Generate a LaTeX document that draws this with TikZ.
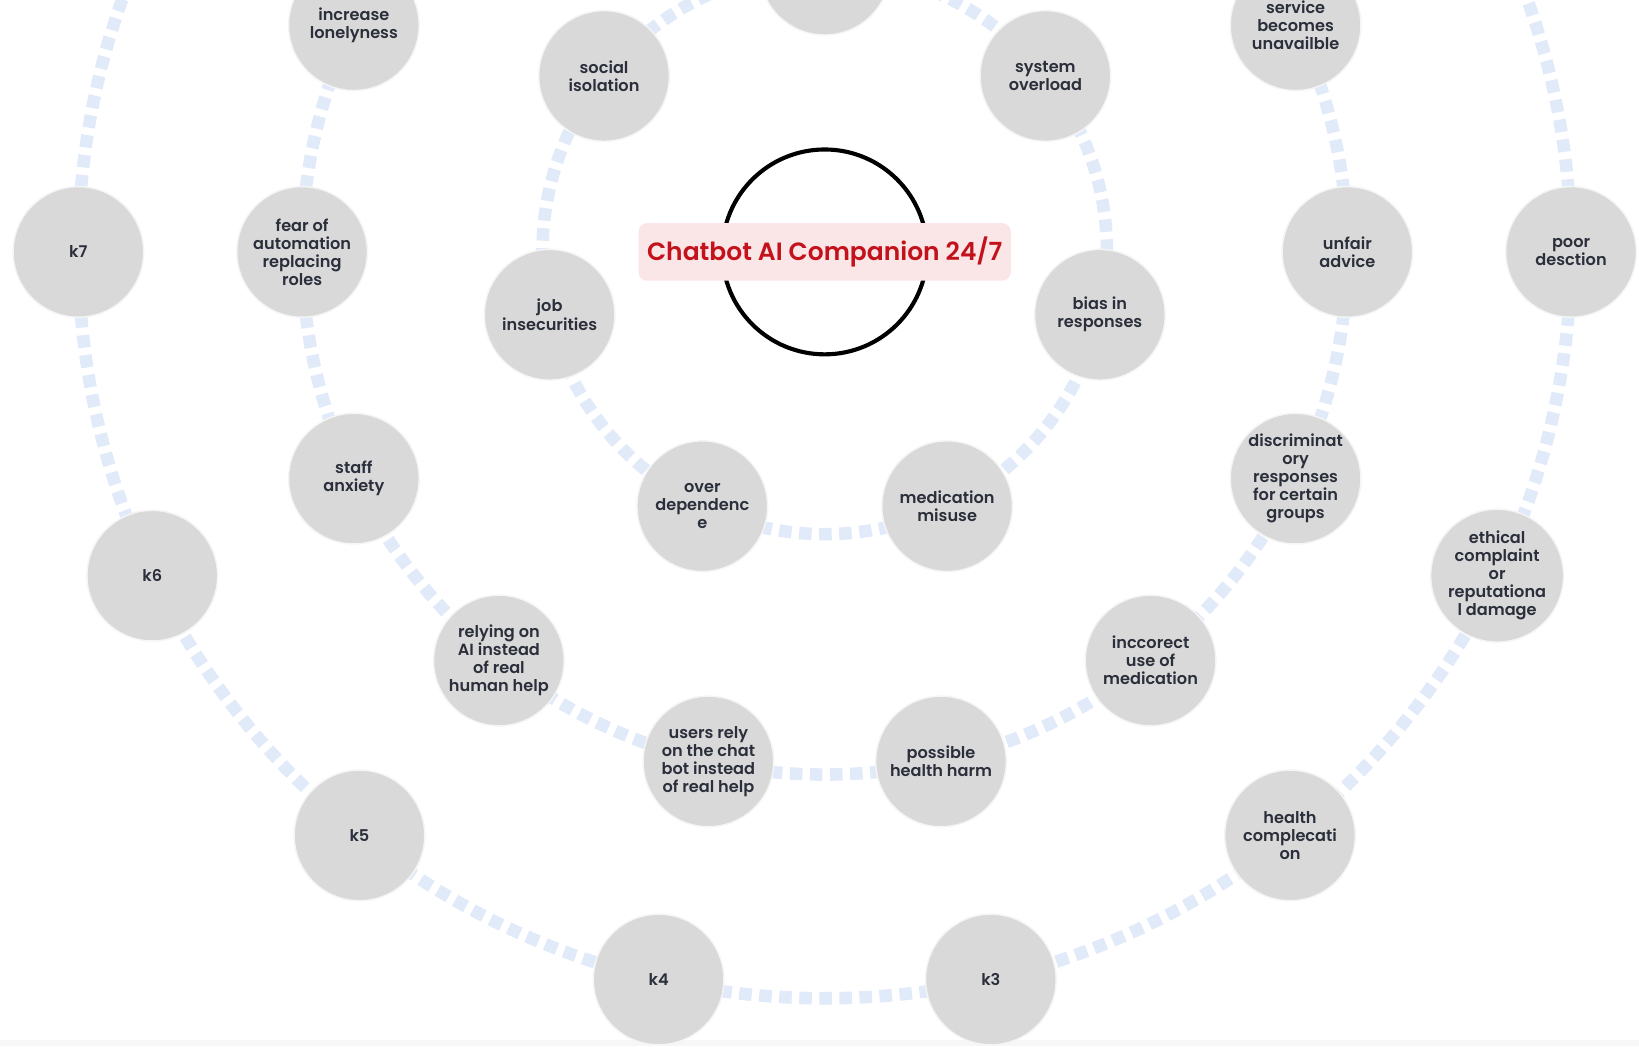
\documentclass[tikz,border=0pt]{standalone}
\usepackage{fontspec}
\setmainfont{Poppins}[BoldFont={Poppins SemiBold}]
\newcommand{\innerRing}{6.75}
\newcommand{\middleRing}{12.5}
\newcommand{\outerRing}{17.85}
\newcommand{\bubbleSize}{3.125cm}
\definecolor{ringBlue}{HTML}{E1EAF9}
\definecolor{bubbleGrey}{HTML}{D9D9D9}
\definecolor{bubbleText}{HTML}{2B2F3B}
\definecolor{titleRed}{HTML}{C4121C}
\definecolor{titlePink}{HTML}{FBE6E7}
\tikzset{
  riskBubble/.style={circle, fill=bubbleGrey, draw=gray!8, line width=1pt,
    minimum size=\bubbleSize, inner sep=0pt, align=center, text=bubbleText,
    font=\bfseries\fontsize{11}{12.3}\selectfont},
  dashedRing/.style={draw=ringBlue, line width=0.3cm, dash pattern=on 0.3cm off 0.18cm}
}

\begin{document}
\begin{tikzpicture}
  \useasboundingbox (-19.725,6.025) rectangle (19.475,-19.0);
  \clip (-19.725,6.025) rectangle (19.475,-19.0);
  \fill[white] (-19.725,6.025) rectangle (19.475,-19.0);
  \fill[gray!6] (-19.725,-18.85) rectangle (19.475,-19.0);

  % the three rings
  \draw[dashedRing] (0,0) circle (\innerRing);
  \draw[dashedRing] (0,0) circle (\middleRing);
  \draw[dashedRing] (0,0) circle (\outerRing);

  % inner ring
  \node[riskBubble] (topRisk) at (90:\innerRing) {};
  \node[riskBubble] (systemOverload) at (38.57:\innerRing) {system\\overload};
  \node[riskBubble] (biasResponses) at (-12.86:\innerRing) {bias in\\responses};
  \node[riskBubble] (medMisuse) at (-64.29:\innerRing) {medication\\misuse};
  \node[riskBubble] (overDependence) at (-115.71:\innerRing) {over\\dependenc\\e};
  \node[riskBubble] (jobInsecurities) at (-167.14:\innerRing) {job\\insecurities};
  \node[riskBubble] (socialIsolation) at (141.43:\innerRing) {social\\isolation};

  % middle ring
  \node[riskBubble] (lonelyness) at (154.29:\middleRing) {increase\\lonelyness};
  \node[riskBubble] (fearAutomation) at (180:\middleRing) {fear of\\automation\\replacing\\roles};
  \node[riskBubble] (staffAnxiety) at (205.71:\middleRing) {staff\\anxiety};
  \node[riskBubble] (relyingAI) at (231.43:\middleRing) {relying on\\AI instead\\of real\\human help};
  \node[riskBubble] (usersRely) at (257.14:\middleRing) {users rely\\on the chat\\bot instead\\of real help};
  \node[riskBubble] (healthHarm) at (282.86:\middleRing) {possible\\health harm};
  \node[riskBubble] (incorrectUse) at (308.57:\middleRing) {inccorect\\use of\\medication};
  \node[riskBubble] (discrimResp) at (334.29:\middleRing) {discriminat\\ory\\responses\\for certain\\groups};
  \node[riskBubble] (unfairAdvice) at (0:\middleRing) {unfair\\advice};
  \node[riskBubble] (serviceDown) at (25.71:\middleRing) {service\\becomes\\unavailble};

  % outer ring
  \node[riskBubble] (kSeven) at (180:\outerRing) {k7};
  \node[riskBubble] (kSix) at (205.71:\outerRing) {k6};
  \node[riskBubble] (kFive) at (231.43:\outerRing) {k5};
  \node[riskBubble] (kFour) at (257.14:\outerRing) {k4};
  \node[riskBubble] (kThree) at (282.86:\outerRing) {k3};
  \node[riskBubble] (healthComp) at (308.57:\outerRing) {health\\complecati\\on};
  \node[riskBubble] (ethicalComp) at (334.29:\outerRing) {ethical\\complaint\\or\\reputationa\\l damage};
  \node[riskBubble] (poorDesc) at (0:\outerRing) {poor\\desction};

  % hub
  \node[circle, draw=black, line width=2.8pt, minimum size=4.9cm] (hub) at (0,0) {};
  \node[fill=titlePink, rounded corners=0.2cm, minimum width=8.9cm, minimum height=1.375cm,
    text=titleRed, font=\bfseries\fontsize{17}{20}\selectfont] (title) at (hub.center) {Chatbot AI Companion 24/7};
\end{tikzpicture}
\end{document}
